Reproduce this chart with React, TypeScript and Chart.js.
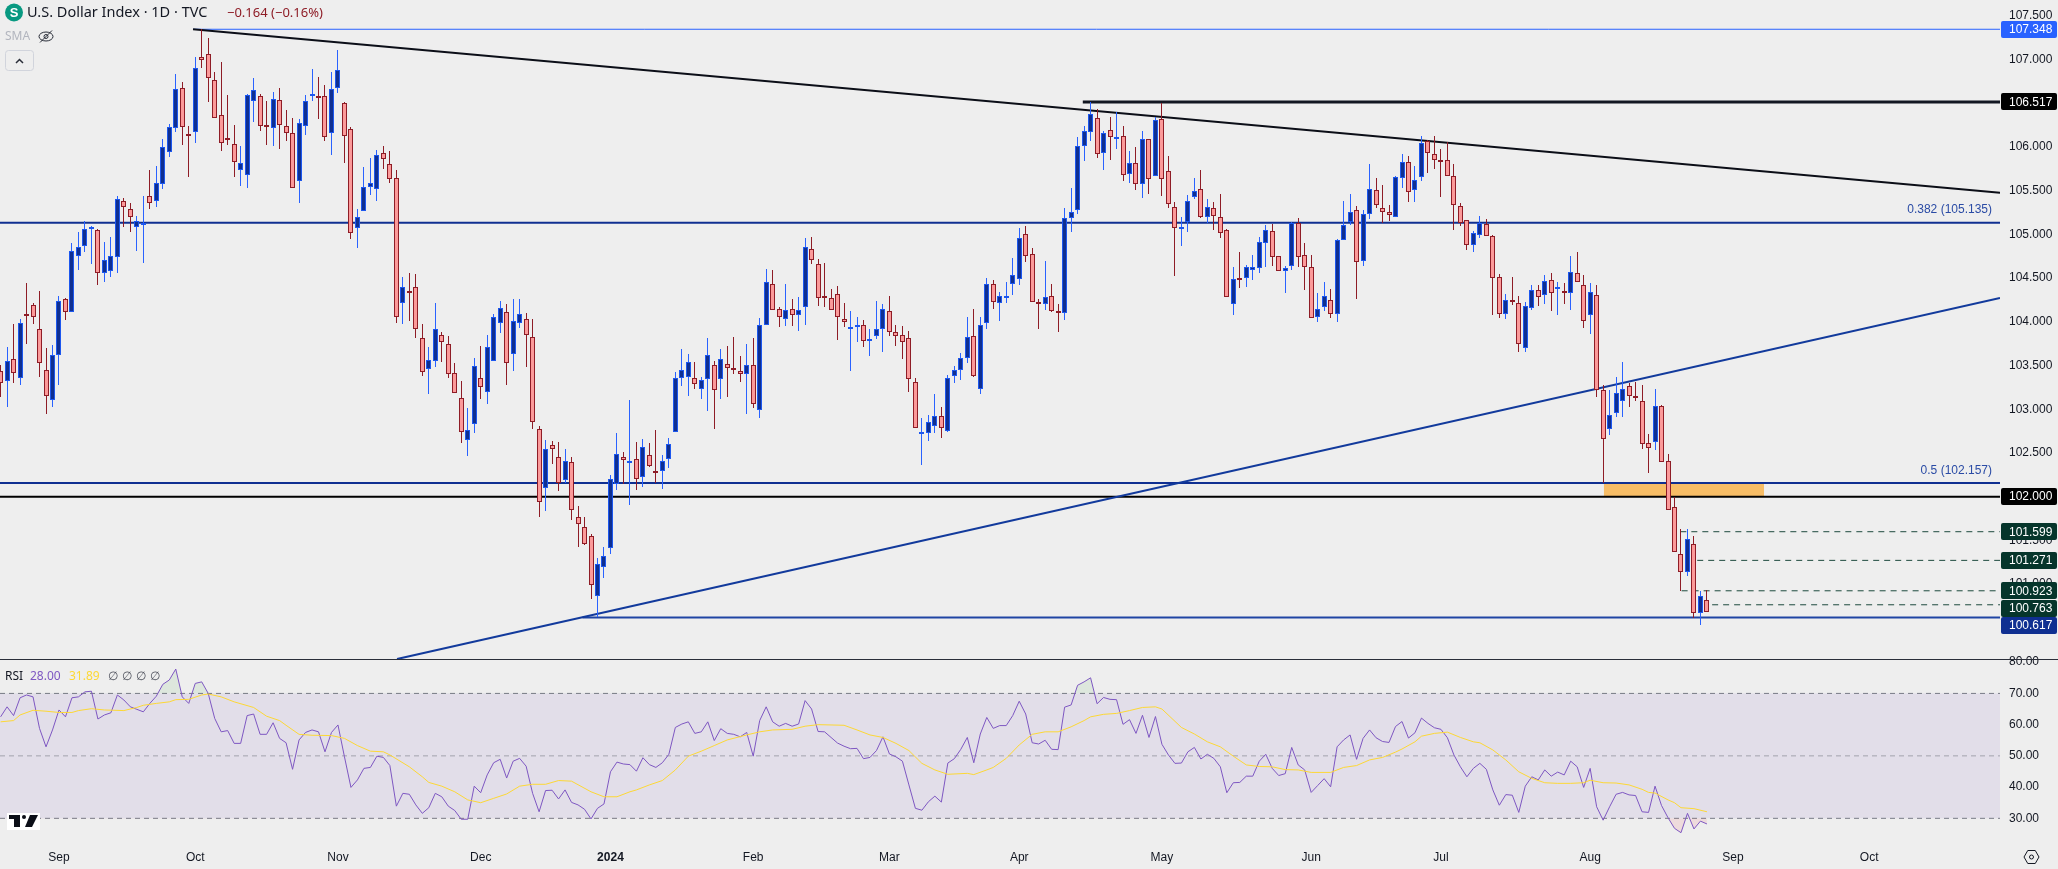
import React, { useEffect, useRef } from "react";
import { Chart, registerables } from "chart.js";

Chart.register(...registerables);

const opens = [
  103.438,103.324,103.571,103.354,104.086,104.189,103.915,103.446,103.106,103.617,
  104.258,104.117,104.750,104.864,105.059,105.048,104.556,104.578,104.739,105.379,
  105.288,105.082,105.116,105.437,105.379,105.574,105.940,106.215,106.672,106.146,
  106.169,107.027,107.061,106.764,106.363,106.100,106.032,105.734,105.677,106.524,
  106.581,106.249,106.215,106.535,106.245,106.157,105.608,106.238,106.581,106.581,
  106.581,106.157,106.672,106.501,106.203,105.070,105.265,105.540,105.524,105.929,
  105.803,105.643,104.212,104.350,104.395,103.812,103.457,103.549,103.846,103.743,
  103.411,103.125,102.645,102.828,103.354,103.194,103.549,103.983,104.109,103.629,
  103.983,104.029,103.823,102.771,102.096,102.588,102.458,102.187,102.393,101.764,
  101.649,101.546,100.860,101.192,101.409,102.145,102.450,102.389,102.427,102.221,
  102.473,102.290,102.290,102.435,102.736,103.354,103.366,103.362,103.235,103.350,
  103.507,103.350,103.515,103.469,103.438,103.407,103.507,102.988,103.961,104.430,
  104.144,104.030,104.144,104.075,104.167,104.831,104.659,104.293,104.270,104.316,
  104.030,103.915,103.938,103.961,103.778,103.835,103.915,104.121,103.881,103.847,
  103.812,103.312,102.732,102.732,102.812,102.920,102.755,103.384,103.446,103.583,
  103.835,103.235,103.984,104.430,104.213,104.288,104.430,104.487,105.002,104.773,
  104.224,104.201,104.293,104.125,104.098,105.185,105.277,106.009,106.169,106.329,
  105.929,106.192,106.107,106.123,105.689,105.815,105.574,106.089,105.666,106.318,
  105.723,105.311,105.078,105.139,105.425,105.517,105.204,105.300,105.197,105.048,
  104.201,104.502,104.499,104.590,104.613,104.899,105.036,104.750,104.579,104.636,
  105.128,104.762,104.625,104.052,104.167,104.247,104.087,104.933,105.139,105.277,
  104.693,105.231,105.506,105.300,105.254,105.197,105.643,105.826,105.506,105.654,
  106.066,105.917,105.849,105.849,105.666,105.322,105.162,104.876,104.991,105.117,
  104.979,104.510,104.087,104.247,104.213,103.698,104.155,104.361,104.304,104.476,
  104.373,104.350,104.327,104.556,104.419,104.075,104.304,103.217,102.778,102.954,
  103.091,103.263,103.149,103.091,102.611,102.622,103.034,102.405,101.879,101.341,
  101.135,101.455,100.672,100.814,
];

const highs = [
  103.507,103.716,103.976,104.033,104.441,104.220,104.353,103.697,103.736,104.296,
  104.269,104.899,105.032,105.154,105.097,105.059,104.918,104.975,105.440,105.414,
  105.356,105.212,105.440,105.738,105.784,106.089,106.264,106.836,106.749,106.241,
  107.035,107.347,107.252,106.855,106.974,106.596,106.253,106.012,106.604,106.787,
  106.604,106.527,106.634,106.672,106.424,106.329,106.318,106.596,106.894,106.798,
  106.710,106.863,107.111,106.512,106.226,105.288,105.776,105.879,105.967,106.016,
  105.955,105.738,104.517,104.556,104.548,103.976,103.716,104.212,103.888,103.839,
  103.526,103.324,103.011,103.583,103.724,103.850,104.090,104.239,104.205,104.262,
  104.262,104.105,104.033,102.809,102.649,102.637,102.622,102.546,102.450,101.893,
  101.764,101.573,101.295,101.421,102.248,102.725,102.515,103.106,102.622,102.656,
  102.610,102.763,102.477,102.668,103.430,103.690,103.633,103.545,103.369,103.816,
  103.552,103.690,103.724,103.827,103.610,103.747,103.812,104.041,104.602,104.594,
  104.167,104.433,104.262,104.281,104.956,104.971,104.716,104.674,104.373,104.411,
  104.213,104.125,104.052,104.022,103.919,104.239,104.205,104.296,103.961,103.953,
  103.896,103.358,102.900,102.935,103.175,103.026,103.392,103.495,103.647,104.052,
  104.144,104.052,104.499,104.479,104.342,104.456,104.731,105.071,105.097,104.842,
  104.262,104.697,104.433,104.205,105.303,105.532,106.119,106.241,106.516,106.436,
  106.184,106.341,106.401,106.241,105.955,106.001,106.184,106.089,106.341,106.501,
  105.898,105.372,105.197,105.448,105.646,105.738,105.406,105.372,105.463,105.059,
  104.628,104.796,104.651,104.765,104.971,105.105,105.120,104.750,104.639,105.143,
  105.189,104.899,104.765,104.331,104.456,104.376,104.948,105.383,105.463,105.323,
  105.277,105.806,105.646,105.566,105.334,105.666,105.921,105.898,105.784,106.127,
  106.081,106.127,105.978,106.058,105.806,105.360,105.162,105.040,105.212,105.177,
  104.994,104.548,104.319,104.514,104.296,104.227,104.422,104.422,104.536,104.559,
  104.456,104.445,104.754,104.800,104.536,104.445,104.422,103.274,103.221,103.366,
  103.541,103.297,103.312,103.274,102.717,103.229,103.046,102.485,102.000,101.630,
  101.630,101.550,100.917,100.929,
];

const lows = [
  103.144,103.022,103.305,103.278,103.747,103.976,103.373,102.942,103.022,103.278,
  104.022,104.117,104.594,104.803,104.662,104.422,104.460,104.517,104.563,105.089,
  105.032,104.815,104.670,105.288,105.318,105.524,105.890,106.169,106.024,105.662,
  106.051,106.909,106.520,106.329,105.959,106.028,105.662,105.555,105.536,106.291,
  106.184,106.024,106.012,105.982,106.073,105.528,105.364,106.138,106.527,106.321,
  106.073,105.910,106.623,105.822,104.945,104.849,105.265,105.452,105.383,105.749,
  105.593,103.991,103.976,104.014,103.812,103.385,103.175,103.488,103.545,103.354,
  103.190,102.618,102.469,102.725,103.118,103.060,103.549,103.877,103.278,103.442,
  103.926,103.488,102.774,101.771,101.840,102.374,102.069,102.160,101.733,101.428,
  101.447,100.829,100.620,101.073,101.344,102.076,102.145,101.905,102.076,102.115,
  102.336,102.160,102.088,102.324,102.736,103.266,103.152,103.232,103.121,102.984,
  102.778,103.121,103.144,103.407,103.312,102.949,103.018,102.904,103.961,104.133,
  103.945,103.953,103.953,103.899,103.964,104.662,104.182,104.170,104.133,103.793,
  103.945,103.438,103.770,103.716,103.610,103.804,103.655,103.839,103.724,103.575,
  103.198,102.789,102.362,102.637,102.729,102.671,102.740,103.301,103.335,103.530,
  103.373,103.178,103.922,104.151,104.014,104.219,104.308,104.425,104.689,104.224,
  103.922,104.136,104.110,103.888,104.025,105.032,105.234,105.841,106.070,105.879,
  105.738,105.852,105.978,105.612,105.593,105.509,105.417,105.463,105.666,105.440,
  105.303,104.525,104.868,105.029,105.403,105.192,105.135,105.051,104.960,104.281,
  104.079,104.388,104.403,104.479,104.563,104.631,104.639,104.579,104.334,104.594,
  104.631,104.365,104.041,104.002,104.128,104.048,104.002,104.933,105.105,104.262,
  104.643,105.181,105.306,105.128,105.158,105.197,105.532,105.372,105.372,105.612,
  105.704,105.749,105.429,105.666,105.051,105.097,104.822,104.800,104.960,104.979,
  104.079,104.044,104.033,104.193,103.655,103.655,104.136,104.182,104.205,104.125,
  104.079,104.205,104.136,104.453,103.930,103.861,103.137,102.153,102.706,102.915,
  102.912,103.030,103.098,102.549,102.274,102.534,102.393,101.844,101.364,100.921,
  101.092,100.608,100.532,100.683,
];

const closes = [
  103.297,103.556,103.411,103.983,104.071,104.052,103.526,103.148,103.617,104.235,
  104.109,104.807,104.853,105.059,105.082,104.563,104.704,104.758,105.402,105.318,
  105.196,105.151,105.128,105.356,105.585,105.997,106.226,106.661,106.226,106.123,
  106.901,106.993,106.794,106.329,106.043,106.077,105.826,105.814,106.596,106.649,
  106.238,106.241,106.554,106.249,106.157,105.528,106.272,106.524,106.604,106.558,
  106.112,106.661,106.878,106.123,105.013,105.204,105.540,105.585,105.906,105.860,
  105.631,104.052,104.395,104.342,103.915,103.430,103.564,103.915,103.766,103.400,
  103.190,102.744,102.759,103.491,103.259,103.709,104.052,104.155,103.533,104.006,
  104.086,103.854,102.858,101.943,102.542,102.549,102.160,102.404,101.844,101.691,
  101.462,100.986,101.226,101.325,102.198,102.485,102.416,102.404,102.206,102.565,
  102.355,102.282,102.404,102.599,103.354,103.446,103.537,103.285,103.335,103.621,
  103.224,103.572,103.467,103.453,103.407,103.503,103.064,103.961,104.453,104.133,
  104.052,104.133,104.075,104.133,104.853,104.705,104.270,104.270,104.133,104.052,
  103.995,103.938,103.961,103.778,103.801,103.915,104.144,103.881,103.835,103.766,
  103.350,102.789,102.740,102.851,102.920,102.789,103.355,103.446,103.583,103.824,
  103.375,103.961,104.430,104.224,104.293,104.296,104.533,104.956,104.750,104.224,
  104.201,104.281,104.121,104.117,105.185,105.254,106.009,106.181,106.375,105.917,
  106.158,106.112,106.115,105.677,105.815,105.574,106.089,105.631,106.307,105.631,
  105.345,105.071,105.086,105.380,105.494,105.197,105.311,105.208,105.014,104.281,
  104.487,104.494,104.625,104.625,104.911,105.048,104.739,104.579,104.613,105.128,
  104.739,104.625,104.041,104.144,104.293,104.087,104.933,105.105,105.254,104.682,
  105.231,105.517,105.334,105.254,105.220,105.654,105.826,105.483,105.620,106.043,
  105.929,105.849,105.826,105.666,105.334,105.128,104.876,105.014,105.128,104.979,
  104.499,104.087,104.247,104.239,103.743,104.178,104.361,104.281,104.464,104.327,
  104.396,104.327,104.567,104.453,104.007,104.338,103.217,102.663,102.931,103.183,
  103.229,103.149,103.126,102.599,102.560,103.034,102.393,101.844,101.371,101.135,
  101.512,100.672,100.860,100.683,
];

const rsiValues = [
  62.5,65.7,62.9,68.6,69.5,68.9,58.8,52.9,58.3,64.7,62.5,68.6,68.9,70.5,70.7,61.8,63.1,63.8,69.5,67.9,
  65.7,64.9,64.1,66.8,69.1,72.9,74.3,77.8,68.9,66.8,73.2,73.7,70,62,57.7,58.1,54,54,62.9,63.4,
  56.9,56.9,60.6,55.6,54.2,45.7,55.1,57.5,58.3,57.7,51.3,57.5,59.9,49.7,39.9,42.3,46,46.3,49.9,49.5,
  46.9,33.9,38,37.7,34.3,31.6,33.4,38,36.9,33.9,32.5,29.7,29.7,40.3,38.2,43.9,47.8,48.9,42.9,48.3,
  49.2,46.7,38,32.1,38.9,39,36.2,39.1,35.1,34.3,32.9,29.8,33.2,34.6,44.9,48,47.4,47.2,45.1,49.4,
  47.2,46.3,47.8,50.5,59.1,60.2,60.9,57.2,57.7,60.9,54.9,58.7,57.2,56.9,56.1,57.5,49.9,61.3,65.7,60.9,
  59.5,60.4,59.5,60.2,67.7,65,57.8,57.7,55.9,54.1,53.1,52.3,52.4,49.1,49.5,51.7,56.1,50.6,49.7,48.3,
  40.7,33.2,32.6,35.3,37.1,35.2,47.7,49.1,52.1,55.9,47.8,57,62.3,58.8,59.7,59.7,62.9,67.5,63.4,54.2,
  53.8,55,52.1,52,65.6,66.3,72.6,73.7,75,66.7,68.7,68.1,68,60.1,61.6,57.2,63,55.9,62.6,53.7,
  50.3,47.6,47.7,51.3,52.7,49,50.5,49.2,46.5,38.2,41.4,41.5,43.5,43.5,48.3,50.5,46,43.7,44.3,52.7,
  47.1,45.5,38.3,40.5,42.7,40.1,52.9,55.1,56.7,48.9,55.6,58.3,55.8,54.6,54.3,59.4,61,55.7,57.4,62.1,
  60.4,59,58.5,55.8,50.3,46.5,43.3,46,47.6,45.7,39.1,34.2,37.6,37.4,31.9,40.3,43.3,42.3,45.5,43.5,
  44.8,43.9,48.3,46.5,39.9,46,33.7,29.4,33.7,37.7,38.3,37.5,37.3,32.1,31.9,40.3,34.1,30.2,26.8,25.4,
  31.6,26.6,29.1,28.2,
];

const rsiMaIndex = [
  0,2,3,5,7,9,11,12,14,16,19,21,22,24,26,27,29,31,32,34,36,39,41,43,44,46,48,51,53,55,57,59,60,63,65,66,68,70,72,74,
  76,78,80,82,84,86,88,91,93,95,97,98,100,102,104,106,108,
  110,112,115,117,119,122,124,126,128,130,132,134,136,138,140,142,144,146,149,150,152,153,155,157,159,161,163,165,167,168,170,172,174,176,178,179,
  182,184,186,188,190,192,194,196,198,200,202,205,207,209,211,213,215,216,218,219,221,223,225,227,228,230,232,234,236,238,240,242,244,245,247,249,251,253,254,255,257,258,259,261,263,
];

const rsiMaValues = [
  60.9,61.3,63.1,64.6,64.3,63.9,63.9,64.5,65.1,64.7,64.5,65.5,66.2,66.8,67.3,68,68.1,69.5,69.8,68.9,67.3,65.5,62.7,61.3,59.8,56.9,56.6,56.5,55.6,53.3,51.5,51.3,50.3,46.5,43.3,41.5,40.3,38.5,35.9,35,
  36.4,37.8,40.3,40.9,40.9,42.1,41.9,38.5,36.9,36.9,38.5,39.1,40.7,42.1,45.5,49.9,51.5,
  53.3,55.1,56.7,57.7,58.3,58.5,59.5,60,59.9,59.8,58.3,56.7,55.9,54,51.7,47.6,45.5,44.1,44.4,44,45.5,46.3,49.2,53.5,56.9,57.7,57.7,59.3,61.3,62.5,63.3,63.6,64.5,65.5,65.7,65,
  59.1,57,54.5,52.9,49.9,47.1,46.6,46.5,45.6,45.5,44.7,44.7,46.3,46.9,48.7,49.5,51.2,52.2,54.5,56.3,57.2,57.6,55.9,54.5,54.2,51.9,48.7,44.9,42.8,41.4,41.2,41.2,41.4,42.2,41.4,41.3,40.7,39.3,38.3,38.1,35.9,35,33.4,33.1,32.1,
];

const monthIndex = [9, 30, 52, 74, 94, 116, 137, 157, 179, 202, 222, 245, 267, 288];
const monthLabels = ["Sep", "Oct", "Nov", "Dec", "2024", "Feb", "Mar", "Apr", "May", "Jun", "Jul", "Aug", "Sep", "Oct"];
const boldMonth = "2024";

const resistanceFrom = [29.66, 107.348];
const resistanceTo = [308.17, 105.478];
const supportFrom = [61.1, 100.143];
const supportTo = [308.17, 104.273];

const tagValues = [107.348, 106.517, 102.0, 101.599, 101.271, 100.923, 100.763, 100.617];
const tagLabels = ["107.348", "106.517", "102.000", "101.599", "101.271", "100.923", "100.763", "100.617"];
const tagColors = ["#2962ff", "#000000", "#000000", "#06352b", "#06352b", "#06352b", "#06352b", "#0f2f91"];
const tagShift = [0, 0, 0, 0, 0, 0, 3.4, 8];

const X_MIN = -0.0925;
const X_MAX = 308.17;
const FONT = '"Liberation Sans", Arial, sans-serif';
const TITLE_FONT = '"Noto Sans", sans-serif';
const TEXT = "#131722";

const hLine = (label: string, from: number, to: number, value: number, color: string, width: number, dash: number[] = [], yAxisID = "y", order = 10) => ({
  type: "line" as const,
  label,
  data: [{ x: from, y: value }, { x: to, y: value }],
  borderColor: color,
  borderWidth: width,
  borderDash: dash,
  pointRadius: 0,
  yAxisID,
  order,
});

const pricePanePlugin = {
  id: "pricePane",
  afterDatasetsUpdate(chart: any) {
    chart.data.datasets.forEach((ds: any, i: number) => {
      if (ds.type === "line") return;
      chart.getDatasetMeta(i).data.forEach((el: any) => {
        el.x = Math.floor(el.x) + 0.5;
        el.y = Math.round(el.y);
        el.base = Math.round(el.base);
        if (Math.abs(el.base - el.y) < 2) el.base = el.y + 2;
      });
    });
  },
  afterDraw(chart: any) {
    const { ctx } = chart;
    const y = chart.scales.y;
    const yr = chart.scales.yr;
    const W = chart.width;
    const text = (s: string, x: number, ty: number, color: string, font: string, align: CanvasTextAlign = "left") => {
      ctx.fillStyle = color;
      ctx.font = font;
      ctx.textAlign = align;
      ctx.textBaseline = "middle";
      ctx.fillText(s, x, ty);
    };
    ctx.save();

    // the RSI axis' top label is cut by the pane edge
    ctx.fillStyle = "#eeeeee";
    ctx.fillRect(y.right, Math.round(y.bottom) - 8, W - y.right, 8);

    // pane divider
    ctx.fillStyle = "#2a2e39";
    ctx.fillRect(0, Math.round(y.bottom) - 1, W, 1);

    // price tags
    tagValues.forEach((v, i) => {
      const cy = y.getPixelForValue(v) + tagShift[i];
      ctx.fillStyle = tagColors[i];
      ctx.beginPath();
      ctx.roundRect(2001, Math.round(cy - 8.5), 56, 17, 2);
      ctx.fill();
      text(tagLabels[i], 2009, cy + 0.5, "#ffffff", `12px ${FONT}`);
    });

    // fib labels
    text("0.382 (105.135)", 1992, y.getPixelForValue(105.135) - 13, "#2a4ba5", `12px ${FONT}`, "right");
    text("0.5 (102.157)", 1992, y.getPixelForValue(102.157) - 12, "#2a4ba5", `12px ${FONT}`, "right");

    // symbol logo
    ctx.fillStyle = "#089981";
    ctx.beginPath();
    ctx.arc(14, 12.5, 9, 0, Math.PI * 2);
    ctx.fill();
    text("S", 14, 13, "#ffffff", `bold 13px ${FONT}`, "center");

    // title
    text("U.S. Dollar Index · 1D · TVC", 27, 13, TEXT, `14.5px ${TITLE_FONT}`);
    text("\u22120.164 (\u22120.16%)", 227, 13, "#8e1c26", `13px ${TITLE_FONT}`);
    text("SMA", 5, 36.5, "#b2b5be", `12px ${TITLE_FONT}`);

    // hidden-eye icon
    ctx.strokeStyle = "#2a2e39";
    ctx.lineWidth = 1;
    ctx.beginPath();
    ctx.ellipse(46, 36.5, 7, 4.5, 0, 0, Math.PI * 2);
    ctx.stroke();
    ctx.beginPath();
    ctx.arc(46, 36.5, 2, 0, Math.PI * 2);
    ctx.stroke();
    ctx.beginPath();
    ctx.moveTo(40, 42.5);
    ctx.lineTo(52, 30.5);
    ctx.stroke();

    // collapse button
    ctx.strokeStyle = "#d1d4dc";
    ctx.beginPath();
    ctx.roundRect(5.5, 50.5, 28, 20, 3);
    ctx.stroke();
    ctx.strokeStyle = "#2a2e39";
    ctx.lineWidth = 1.5;
    ctx.beginPath();
    ctx.moveTo(16, 63);
    ctx.lineTo(19.5, 59.5);
    ctx.lineTo(23, 63);
    ctx.stroke();

    // RSI legend
    const ly = yr.top + 17;
    text("RSI", 5, ly, TEXT, `12px ${TITLE_FONT}`);
    text("28.00", 30, ly, "#7e57c2", `12px ${TITLE_FONT}`);
    text("31.89", 69, ly, "#fdd835", `12px ${TITLE_FONT}`);
    [108, 122, 136, 150].forEach((x) => text("\u2205", x, ly, "#50535e", `12px ${TITLE_FONT}`));

    // watermark logo
    ctx.fillStyle = "#ffffff";
    ctx.fillRect(7, 813, 33, 17);
    ctx.fillStyle = "#0b0e17";
    ctx.fillRect(9, 815, 11, 4);
    ctx.fillRect(14, 815, 6, 12);
    ctx.beginPath();
    ctx.arc(24, 817, 2, 0, Math.PI * 2);
    ctx.fill();
    ctx.beginPath();
    ctx.moveTo(30, 815);
    ctx.lineTo(38, 815);
    ctx.lineTo(32, 827);
    ctx.lineTo(25, 827);
    ctx.fill();

    // settings icon
    ctx.strokeStyle = "#131722";
    ctx.lineWidth = 1;
    ctx.beginPath();
    const gx = 2031.5;
    const gy = 857;
    for (let k = 0; k < 6; k++) {
      const a = (Math.PI / 3) * k;
      const px = gx + 7.5 * Math.cos(a);
      const py = gy + 7.5 * Math.sin(a);
      if (k === 0) ctx.moveTo(px, py);
      else ctx.lineTo(px, py);
    }
    ctx.closePath();
    ctx.stroke();
    ctx.beginPath();
    ctx.arc(gx, gy, 2, 0, Math.PI * 2);
    ctx.stroke();

    ctx.restore();
  },
};

const backgroundPlugin = {
  id: "paneBackground",
  beforeDraw(chart: any) {
    chart.ctx.save();
    chart.ctx.fillStyle = "#eeeeee";
    chart.ctx.fillRect(0, 0, chart.width, chart.height);
    chart.ctx.restore();
  },
};

export default function App() {
  const ref = useRef<HTMLCanvasElement | null>(null);

  useEffect(() => {
    if (!ref.current) return;
    const index = opens.map((_, i) => i);
    const isUp = index.map((i) => closes[i] >= opens[i]);
    const zeroPad = (s: any) => {
      s.paddingTop = 0;
      s.paddingBottom = 0;
      s.paddingLeft = 0;
      s.paddingRight = 0;
    };

    const chart = new Chart(ref.current, {
      type: "bar",
      data: {
        datasets: [
          {
            type: "bar",
            label: "Wicks",
            data: index.map((i) => ({ x: i, y: [lows[i], highs[i]] })),
            backgroundColor: isUp.map((u) => (u ? "#2962ff" : "#8e1c26")),
            barThickness: 1,
            borderWidth: 0,
            inflateAmount: 0,
            grouped: false,
            order: 5,
          },
          {
            type: "bar",
            label: "Bodies",
            data: index.map((i) => ({ x: i, y: [opens[i], closes[i]] })),
            backgroundColor: isUp.map((u) => (u ? "#0f2f91" : "#fb9a9a")),
            borderColor: isUp.map((u) => (u ? "#1c57ee" : "#8e1c26")),
            borderWidth: 1,
            borderSkipped: false,
            barThickness: 5,
            inflateAmount: 0,
            grouped: false,
            order: 1,
          },
          {
            type: "line",
            label: "Zone",
            data: [{ x: 247.1, y: 102.157 }, { x: 271.8, y: 102.157 }],
            borderWidth: 0,
            pointRadius: 0,
            backgroundColor: "#f7bd66",
            fill: { value: 102 },
            order: 12,
          },
          hLine("High", resistanceFrom[0], X_MAX, 107.348, "#2962ff", 1),
          hLine("Resistance", 166.8, X_MAX, 106.517, "#131722", 3),
          hLine("Fib 0.382", X_MIN, X_MAX, 105.135, "#0f2f91", 2),
          hLine("Fib 0.5", X_MIN, X_MAX, 102.157, "#0f2f91", 2),
          hLine("Big figure", X_MIN, X_MAX, 102, "#000000", 2),
          hLine("Low", 89.7, X_MAX, 100.617, "#1f44a3", 2),
          hLine("a", 258.9, X_MAX, 101.599, "#1d4a3e", 1, [6, 5]),
          hLine("b", 261.5, X_MAX, 101.271, "#1d4a3e", 1, [6, 5]),
          hLine("c", 259.1, X_MAX, 100.923, "#1d4a3e", 1, [6, 5]),
          hLine("d", 263.8, X_MAX, 100.763, "#1d4a3e", 1, [6, 5]),
          {
            type: "line",
            label: "Down trend",
            data: [{ x: resistanceFrom[0], y: resistanceFrom[1] }, { x: resistanceTo[0], y: resistanceTo[1] }],
            borderColor: "#0b0e17",
            borderWidth: 2,
            pointRadius: 0,
            order: 9,
          },
          {
            type: "line",
            label: "Up trend",
            data: [{ x: supportFrom[0], y: supportFrom[1] }, { x: supportTo[0], y: supportTo[1] }],
            borderColor: "#123a9c",
            borderWidth: 2,
            pointRadius: 0,
            order: 9,
          },
          {
            type: "line",
            label: "RSI band",
            data: [{ x: X_MIN, y: 70 }, { x: X_MAX, y: 70 }],
            borderWidth: 0,
            pointRadius: 0,
            backgroundColor: "rgba(126,87,194,0.1)",
            fill: { value: 30 },
            yAxisID: "yr",
            order: 14,
          },
          hLine("RSI 70", X_MIN, X_MAX, 70, "#787b86", 1, [5, 4], "yr", 13),
          hLine("RSI 50", X_MIN, X_MAX, 50, "rgba(120,123,134,0.6)", 1, [5, 4], "yr", 13),
          hLine("RSI 30", X_MIN, X_MAX, 30, "#787b86", 1, [5, 4], "yr", 13),
          {
            type: "line",
            label: "RSI oversold",
            data: index.map((i) => ({ x: i, y: rsiValues[i] })),
            borderWidth: 0,
            pointRadius: 0,
            fill: { target: { value: 30 }, above: "transparent", below: "rgba(242,54,69,0.1)" },
            yAxisID: "yr",
            order: 4,
          },
          {
            type: "line",
            label: "RSI",
            data: index.map((i) => ({ x: i, y: rsiValues[i] })),
            borderColor: "#7e57c2",
            borderWidth: 1,
            pointRadius: 0,
            fill: { target: { value: 70 }, above: "rgba(76,175,80,0.1)", below: "transparent" },
            yAxisID: "yr",
            order: 3,
          },
          {
            type: "line",
            label: "RSI MA",
            data: rsiMaIndex.map((x, i) => ({ x, y: rsiMaValues[i] })),
            borderColor: "#fdd835",
            borderWidth: 1,
            pointRadius: 0,
            yAxisID: "yr",
            order: 2,
          },
        ] as any,
      },
      options: {
        responsive: false,
        animation: false,
        events: [],
        layout: { padding: 0 },
        plugins: { legend: { display: false }, tooltip: { enabled: false } },
        scales: {
          x: {
            type: "linear",
            offset: false,
            min: X_MIN,
            max: X_MAX,
            grid: { display: false, drawTicks: false },
            border: { display: false },
            afterFit: (s: any) => {
              s.height = 31;
              zeroPad(s);
            },
            afterBuildTicks: (s: any) => {
              s.ticks = monthIndex.map((value) => ({ value }));
            },
            ticks: {
              autoSkip: false,
              maxRotation: 0,
              padding: 12,
              color: TEXT,
              font: (c: any) => ({
                family: FONT,
                size: 12,
                weight: monthLabels[monthIndex.indexOf(c.tick?.value)] === boldMonth ? "bold" : "normal",
              }),
              callback: (v: any) => monthLabels[monthIndex.indexOf(v)],
            },
          },
          y: {
            type: "linear",
            position: "right",
            stack: "panes",
            stackWeight: 660,
            min: 100.131,
            max: 107.683,
            beginAtZero: false,
            grid: { display: false, drawTicks: false },
            border: { display: false },
            afterFit: (s: any) => {
              s.width = 58;
              zeroPad(s);
            },
            ticks: {
              stepSize: 0.5,
              includeBounds: false,
              autoSkip: false,
              padding: 9,
              color: TEXT,
              font: { family: FONT, size: 12 },
              callback: (v: any) => Number(v).toFixed(3),
            },
          },
          yr: {
            type: "linear",
            position: "right",
            stack: "panes",
            stackWeight: 178,
            min: 23.7,
            max: 80.7,
            beginAtZero: false,
            grid: { display: false, drawTicks: false },
            border: { display: false },
            afterFit: (s: any) => {
              s.width = 58;
              zeroPad(s);
            },
            ticks: {
              stepSize: 10,
              includeBounds: false,
              autoSkip: false,
              padding: 9,
              color: TEXT,
              font: { family: FONT, size: 12 },
              callback: (v: any) => Number(v).toFixed(2),
            },
          },
        },
      } as any,
      plugins: [backgroundPlugin, pricePanePlugin],
    });
    return () => chart.destroy();
  }, []);

  return (
    <div style={{ position: "fixed", left: 0, top: 0, width: 2058, height: 869, background: "#eeeeee" }}>
      <canvas ref={ref} width={2058} height={869} style={{ display: "block" }} />
    </div>
  );
}
